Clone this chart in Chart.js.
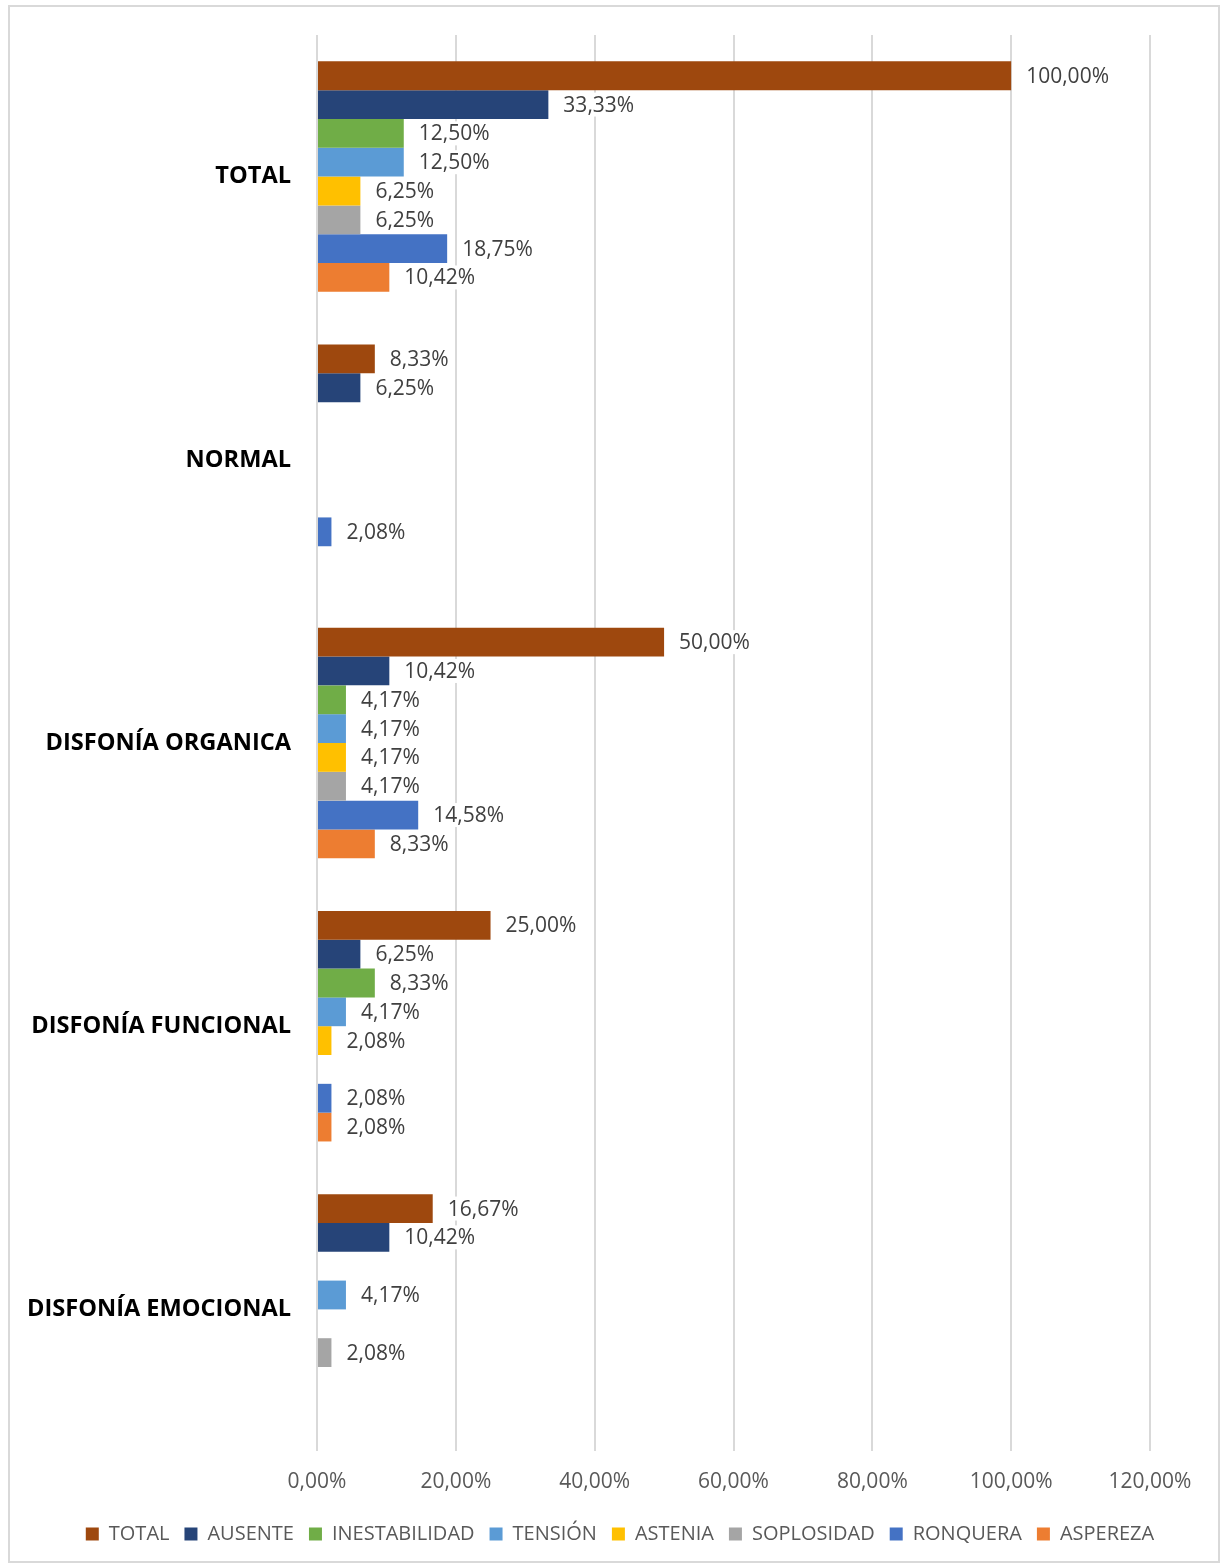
<!DOCTYPE html>
<html lang="es">
<head>
<meta charset="UTF-8">
<title>Disfonía</title>
<script src="https://cdn.jsdelivr.net/npm/chart.js"></script>
<style>
  body { margin: 0; background: #fff; }
  #wrap { position: relative; width: 1220px; height: 1565px; }
</style>
</head>
<body>
<div id="wrap"><canvas id="chart" width="1220" height="1565"></canvas></div>
<script>
// categorias (eje vertical) y series
const categories = ['TOTAL', 'NORMAL', 'DISFONÍA ORGANICA', 'DISFONÍA FUNCIONAL', 'DISFONÍA EMOCIONAL'];
const seriesNames = ['TOTAL', 'AUSENTE', 'INESTABILIDAD', 'TENSIÓN', 'ASTENIA', 'SOPLOSIDAD', 'RONQUERA', 'ASPEREZA'];
const seriesColors = ['#9e480e', '#264478', '#70ad47', '#5b9bd5', '#ffc000', '#a5a5a5', '#4472c4', '#ed7d31'];

// valores en %, un array por serie (orden de categories)
const totalVals       = [100.00,  8.33, 50.00, 25.00, 16.67];
const ausenteVals     = [ 33.33,  6.25, 10.42,  6.25, 10.42];
const inestabVals     = [ 12.50,  null,  4.17,  8.33,  null];
const tensionVals     = [ 12.50,  null,  4.17,  4.17,  4.17];
const asteniaVals     = [  6.25,  null,  4.17,  2.08,  null];
const soplosidadVals  = [  6.25,  null,  4.17,  null,  2.08];
const ronqueraVals    = [ 18.75,  2.08, 14.58,  2.08,  null];
const asperezaVals    = [ 10.42,  null,  8.33,  2.08,  null];
const allSeries = [totalVals, ausenteVals, inestabVals, tensionVals, asteniaVals, soplosidadVals, ronqueraVals, asperezaVals];

const xTicks = [0, 20, 40, 60, 80, 100, 120];

const fmtPct = v => v.toFixed(2).replace('.', ',') + '%';

const FONT = '"Open Sans", sans-serif';

// etiquetas de datos a la derecha de cada barra, con fondo blanco
const barLabels = {
    id: 'barLabels',
    afterDatasetsDraw(chart) {
        const ctx = chart.ctx;
        ctx.save();
        ctx.font = '21px ' + FONT;
        ctx.textBaseline = 'middle';
        ctx.textAlign = 'left';
        chart.data.datasets.forEach((ds, di) => {
            const meta = chart.getDatasetMeta(di);
            meta.data.forEach((bar, i) => {
                const v = ds.data[i];
                if (v === null || v === undefined) return;
                const txt = fmtPct(v);
                const x = bar.x + 15;
                const w = ctx.measureText(txt).width;
                ctx.fillStyle = '#fff';
                ctx.fillRect(x - 2, bar.y - 12, w + 4, 24);
                ctx.fillStyle = '#404040';
                ctx.fillText(txt, x, bar.y + 1);
            });
        });
        ctx.restore();
    }
};

// marco gris del grafico; la leyenda se centra en todo el ancho
const frame = {
    id: 'frame',
    beforeDraw(chart) {
        const ctx = chart.ctx;
        ctx.save();
        ctx.fillStyle = '#fff';
        ctx.fillRect(0, 0, chart.width, chart.height);
        ctx.strokeStyle = '#d9d9d9';
        ctx.lineWidth = 2;
        ctx.strokeRect(9, 6, 1210, 1556);
        ctx.restore();
        if (chart.legend) {
            chart.legend.left = 20;
            chart.legend.right = chart.width;
        }
    }
};

new Chart(document.getElementById('chart'), {
    type: 'bar',
    data: {
        labels: categories,
        datasets: seriesNames.map((name, i) => ({
            label: name,
            data: allSeries[i],
            backgroundColor: seriesColors[i],
            borderWidth: 0,
            categoryPercentage: 0.814,
            barPercentage: 1.0
        }))
    },
    options: {
        indexAxis: 'y',
        responsive: false,
        animation: false,
        layout: { padding: { top: 35, right: 70, bottom: 11, left: 0 } },
        plugins: {
            tooltip: { enabled: false },
            legend: {
                position: 'bottom',
                labels: {
                    boxWidth: 13,
                    boxHeight: 13,
                    padding: 15,
                    color: '#595959',
                    font: { family: FONT, size: 20 }
                }
            }
        },
        scales: {
            x: {
                min: 0,
                max: 120,
                afterBuildTicks: s => { s.ticks = xTicks.map(v => ({ value: v })); },
                ticks: {
                    callback: v => fmtPct(v),
                    color: '#595959',
                    font: { family: FONT, size: 21 },
                    padding: 18,
                    maxRotation: 0
                },
                grid: { color: '#d9d9d9', lineWidth: 2, drawTicks: false },
                border: { display: false },
                afterFit: s => { s.height = 58; }
            },
            y: {
                ticks: {
                    color: '#000',
                    font: { family: FONT, size: 23.6, weight: 'bold' },
                    padding: 26
                },
                grid: { display: false, drawTicks: false },
                border: { display: false },
                afterFit: s => {
                    s.width = 317;
                    s.paddingTop = 0;
                    s.paddingBottom = 0;
                }
            }
        }
    },
    plugins: [frame, barLabels]
});
</script>
</body>
</html>
